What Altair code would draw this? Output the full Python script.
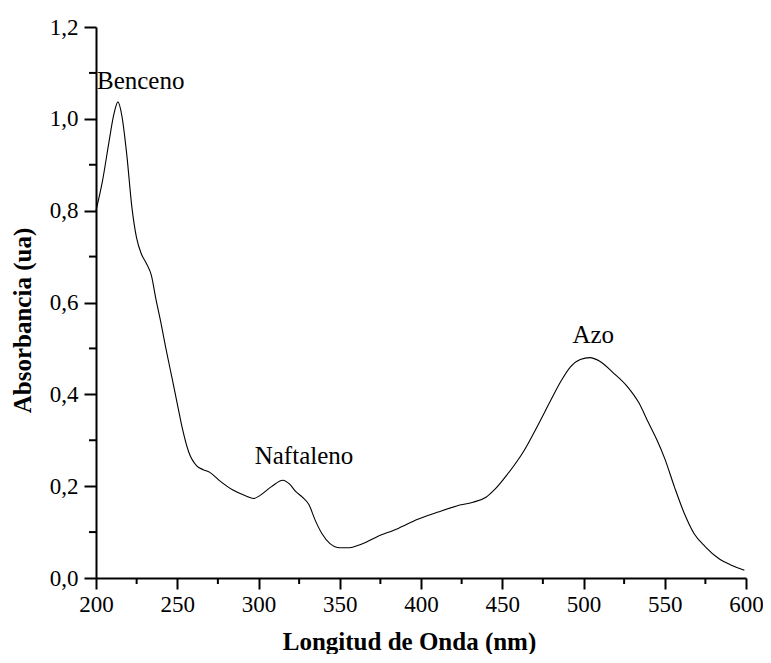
import altair as alt
import pandas as pd

wavelength = [200, 204, 208, 211, 213.5, 216, 219, 222, 225, 228, 231, 234, 237, 240, 243, 247,
              250, 253, 257, 262, 266, 270, 276, 284, 292, 297, 301, 308, 315, 319, 323, 327,
              331, 335, 339, 344, 350, 356, 362, 373, 386, 398, 410, 422, 432, 440, 446, 453,
              463, 473, 480, 486, 492, 498, 504, 510, 518, 527, 534, 540, 545, 550, 556, 562,
              568, 575, 583, 591, 599]
absorbance = [0.800, 0.865, 0.950, 1.010, 1.037, 1.005, 0.920, 0.810, 0.740, 0.705, 0.685, 0.660,
              0.605, 0.555, 0.500, 0.432, 0.380, 0.328, 0.275, 0.244, 0.236, 0.230, 0.212, 0.192,
              0.179, 0.173, 0.180, 0.199, 0.213, 0.205, 0.188, 0.176, 0.160, 0.125, 0.097, 0.075,
              0.066, 0.066, 0.072, 0.090, 0.108, 0.128, 0.143, 0.157, 0.165, 0.176, 0.195, 0.225,
              0.275, 0.340, 0.388, 0.428, 0.460, 0.476, 0.480, 0.472, 0.448, 0.417, 0.382, 0.338,
              0.302, 0.260, 0.198, 0.141, 0.097, 0.068, 0.043, 0.028, 0.017]

label_text = ["Benceno", "Naftaleno", "Azo"]
label_x = [227.5, 328.0, 506.0]
label_y = [1.065, 0.248, 0.5125]

x_major = [200, 250, 300, 350, 400, 450, 500, 550, 600]
x_minor = [225, 275, 325, 375, 425, 475, 525, 575]
y_major = [0.0, 0.2, 0.4, 0.6, 0.8, 1.0, 1.2]
y_minor = [0.1, 0.3, 0.5, 0.7, 0.9, 1.1]

XT = "Longitud de Onda (nm)"
YT = "Absorbancia (ua)"
FONT = "Liberation Serif, Times New Roman, Times, serif"

spec = pd.DataFrame({"wl": wavelength, "ab": absorbance})
labels = pd.DataFrame({"t": label_text, "wl": label_x, "ab": label_y})
xm = pd.DataFrame({"wl": x_minor})
ym = pd.DataFrame({"ab": y_minor})

W, H = 650, 551

xscale = alt.Scale(domain=[200, 600], nice=False, zero=False)
yscale = alt.Scale(domain=[0, 1.2], nice=False, zero=False)

xaxis = alt.Axis(values=x_major, format="d", grid=False, tickSize=11, tickWidth=2,
                 domainWidth=2, domainColor="black", tickColor="black",
                 labelFont=FONT, labelFontSize=23, labelColor="black", labelPadding=4,
                 labelFlush=False, labelOverlap=False,
                 titleFont=FONT, titleFontSize=25, titleFontWeight="bold", titleColor="black",
                 titleX=313, titleY=71, titleBaseline="alphabetic")
yaxis = alt.Axis(values=y_major, grid=False, tickSize=12, tickWidth=2,
                 domainWidth=2, domainColor="black", tickColor="black",
                 labelExpr="replace(format(datum.value, '.1f'), '.', ',')",
                 labelFont=FONT, labelFontSize=23, labelColor="black", labelPadding=6,
                 labelFlush=False, labelOverlap=False,
                 titleFont=FONT, titleFontSize=25, titleFontWeight="bold", titleColor="black",
                 titleX=-74, titleY=293, titleBaseline="middle", titleAngle=270)

line = alt.Chart(spec).mark_line(color="black", strokeWidth=1.1, interpolate="monotone").encode(
    x=alt.X("wl:Q", scale=xscale, axis=xaxis, title=XT),
    y=alt.Y("ab:Q", scale=yscale, axis=yaxis, title=YT),
)

text = alt.Chart(labels).mark_text(font=FONT, fontSize=25, color="black",
                                   align="center", baseline="alphabetic").encode(
    x=alt.X("wl:Q", scale=xscale, title=XT),
    y=alt.Y("ab:Q", scale=yscale, title=YT),
    text="t:N",
)

xminor = alt.Chart(xm).mark_rule(color="black", strokeWidth=2).encode(
    x=alt.X("wl:Q", scale=xscale, title=XT),
    y=alt.value(H),
    y2=alt.value(H + 6),
)

yminor = alt.Chart(ym).mark_rule(color="black", strokeWidth=2).encode(
    y=alt.Y("ab:Q", scale=yscale, title=YT),
    x=alt.value(-7),
    x2=alt.value(0),
)

chart = alt.layer(line, text, xminor, yminor).properties(
    width=W, height=H,
    background="white",
    autosize=alt.AutoSizeParams(type="none"),
    padding={"left": 88, "top": 19, "right": 17, "bottom": 76},
).configure_view(stroke=None)

chart.save("out.html", embed_options={"renderer": "svg", "actions": False})
